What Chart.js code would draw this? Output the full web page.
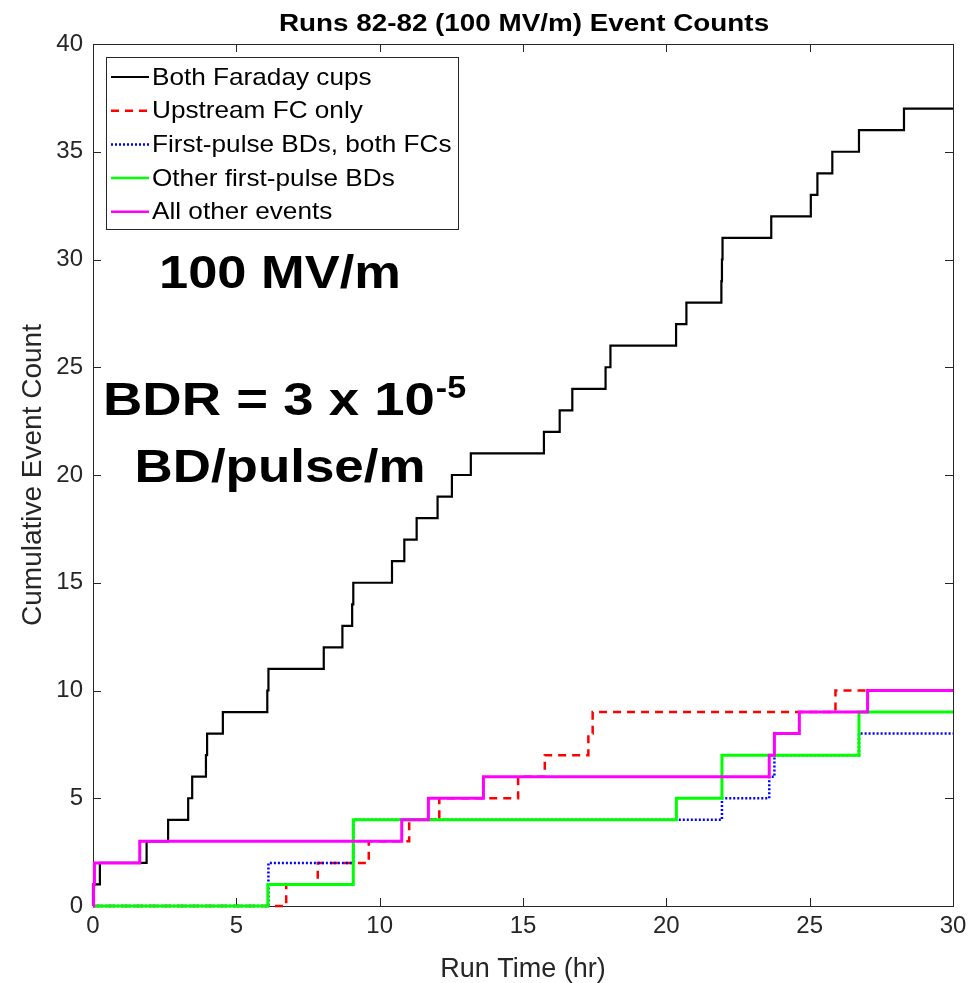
<!DOCTYPE html>
<html><head><meta charset="utf-8">
<script src="https://cdn.jsdelivr.net/npm/chart.js@4.4.1/dist/chart.umd.min.js"></script>
<style>html,body{margin:0;padding:0;background:#fff}#wrap{width:973px;height:983px;position:relative}</style>
</head><body><div id="wrap"><canvas id="c"></canvas></div>
<script>
// ---- data ----
const titleText = 'Runs 82-82 (100 MV/m) Event Counts';
const xTitle = 'Run Time (hr)';
const yTitle = 'Cumulative Event Count';
const labelField = '100 MV/m';
const labelBDR = 'BDR = 3 x 10';
const labelBDRexp = '-5';
const labelUnit = 'BD/pulse/m';
const seriesLabels = ['Both Faraday cups', 'Upstream FC only', 'First-pulse BDs, both FCs', 'Other first-pulse BDs', 'All other events'];
const xTicks = [0, 5, 10, 15, 20, 25, 30];
const yTicks = [0, 5, 10, 15, 20, 25, 30, 35, 40];

const bothT = [0, 0, 0.24, 1.87, 2.62, 3.32, 3.46, 3.94, 3.98, 4.53, 6.08, 6.12, 8.05, 8.70, 9.04, 9.08, 10.43, 10.86, 11.29, 12.02, 12.52, 13.18, 15.73, 16.28, 16.72, 17.88, 18.05, 20.34, 20.70, 21.92, 21.94, 21.96, 23.66, 25.04, 25.27, 25.79, 26.72, 28.29, 30];
const bothY = [0, 1, 2, 3, 4, 5, 6, 7, 8, 9, 10, 11, 12, 13, 14, 15, 16, 17, 18, 19, 20, 21, 22, 23, 24, 25, 26, 27, 28, 29, 30, 31, 32, 33, 34, 35, 36, 37, 37];

const upT = [0, 6.74, 7.84, 9.62, 11.03, 12.08, 14.83, 15.76, 17.28, 17.43, 25.90, 30];
const upY = [0, 1, 2, 3, 4, 5, 6, 7, 8, 9, 10, 10];

const fpBothT = [0, 6.12, 6.12, 9.08, 9.08, 21.94, 23.59, 23.77, 26.72, 30];
const fpBothY = [0, 1, 2, 3, 4, 5, 6, 7, 8, 8];

const fpOtherT = [0, 6.10, 9.08, 9.08, 9.08, 20.35, 21.94, 21.94, 26.72, 26.72, 30];
const fpOtherY = [0, 1, 2, 3, 4, 5, 6, 7, 8, 9, 9];

const otherT = [0, 0.02, 0.05, 1.63, 10.77, 11.70, 13.62, 23.59, 23.77, 24.64, 27.02, 30];
const otherY = [0, 1, 2, 3, 4, 5, 6, 7, 8, 9, 10, 10];

// ---- build ----
const FONT = '"Liberation Sans", Arial, Helvetica, sans-serif';
const AX = '#262626';
function pts(t, y) { return t.map((v, i) => ({x: v, y: y[i]})); }

const datasets = [
  {label: seriesLabels[0], data: pts(bothT, bothY), borderColor: '#000000', borderWidth: 2.2, order: 5},
  {label: seriesLabels[1], data: pts(upT, upY), borderColor: '#ff0000', borderWidth: 2.5, borderDash: [8, 6], order: 4},
  {label: seriesLabels[2], data: pts(fpBothT, fpBothY), borderColor: '#0000ff', borderWidth: 2.5, borderDash: [2, 2], order: 3},
  {label: seriesLabels[3], data: pts(fpOtherT, fpOtherY), borderColor: '#00ff00', borderWidth: 3, order: 2},
  {label: seriesLabels[4], data: pts(otherT, otherY), borderColor: '#ff00ff', borderWidth: 3, order: 1}
].map(d => Object.assign({stepped: true, pointRadius: 0, fill: false, tension: 0, clip: false}, d));

function stretchText(ctx, text, x, y, align, sx) {
  ctx.save();
  ctx.translate(x, y);
  ctx.scale(sx, 1);
  ctx.textAlign = align;
  ctx.fillText(text, 0, 0);
  ctx.restore();
}

const framePlugin = {
  id: 'frame',
  beforeDatasetsDraw(chart) {
    const {ctx, chartArea: a, scales: {x, y}} = chart;
    ctx.save();
    ctx.strokeStyle = AX;
    ctx.lineWidth = 1;
    ctx.beginPath();
    x.ticks.forEach(t => {
      const px = Math.round(x.getPixelForValue(t.value)) + 0.5;
      ctx.moveTo(px, a.bottom); ctx.lineTo(px, a.bottom - 8);
      ctx.moveTo(px, a.top); ctx.lineTo(px, a.top + 8);
    });
    y.ticks.forEach(t => {
      const py = Math.round(y.getPixelForValue(t.value)) + 0.5;
      ctx.moveTo(a.left, py); ctx.lineTo(a.left + 8, py);
      ctx.moveTo(a.right, py); ctx.lineTo(a.right - 8, py);
    });
    ctx.stroke();
    ctx.strokeRect(Math.round(a.left) + 0.5, Math.round(a.top) + 0.5, Math.round(a.right - a.left), Math.round(a.bottom - a.top));
    ctx.restore();
  },
  afterDraw(chart) {
    const {ctx} = chart;
    ctx.save();
    // title
    ctx.fillStyle = '#000';
    ctx.textBaseline = 'alphabetic';
    ctx.font = 'bold 23px ' + FONT;
    stretchText(ctx, titleText, 524, 31, 'center', 1.21);
    // annotations
    ctx.font = 'bold 46px ' + FONT;
    stretchText(ctx, labelField, 280, 288, 'center', 1.14);
    const sx = 1.16;
    ctx.font = 'bold 47px ' + FONT;
    stretchText(ctx, labelBDR, 103, 415, 'left', sx);
    const w = ctx.measureText(labelBDR).width * sx;
    ctx.font = 'bold 31px ' + FONT;
    stretchText(ctx, labelBDRexp, 103 + w + 1, 398, 'left', 1.1);
    ctx.font = 'bold 46px ' + FONT;
    stretchText(ctx, labelUnit, 280, 482, 'center', 1.15);
    // legend
    const bx = 106.5, by = 57.5, bw = 352, bh = 172;
    ctx.fillStyle = '#fff';
    ctx.fillRect(bx, by, bw, bh);
    ctx.strokeStyle = AX;
    ctx.lineWidth = 1;
    ctx.setLineDash([]);
    ctx.strokeRect(bx, by, bw, bh);
    ctx.font = '24px ' + FONT;
    ctx.textBaseline = 'middle';
    chart.data.datasets.forEach((d, i) => {
      const cy = 77 + i * 33.7;
      ctx.save();
      ctx.strokeStyle = d.borderColor;
      ctx.lineWidth = Math.min(d.borderWidth, 2.5);
      ctx.setLineDash(d.borderDash || []);
      ctx.beginPath();
      ctx.moveTo(111, cy); ctx.lineTo(149, cy);
      ctx.stroke();
      ctx.restore();
      ctx.fillStyle = '#000';
      stretchText(ctx, d.label, 152, cy + 1, 'left', 1.09);
    });
    ctx.restore();
  }
};

new Chart(document.getElementById('c'), {
  type: 'line',
  data: {datasets},
  plugins: [framePlugin],
  options: {
    responsive: true,
    maintainAspectRatio: false,
    animation: false,
    layout: {padding: {top: 44, right: 20, left: 0, bottom: 0}},
    plugins: {legend: {display: false}, tooltip: {enabled: false}, title: {display: false}},
    scales: {
      x: {
        type: 'linear', min: 0, max: 30,
        afterBuildTicks: s => { s.ticks = xTicks.map(v => ({value: v})); },
        afterFit: s => { s.height = 77; },
        grid: {display: false, drawTicks: false},
        border: {display: false},
        ticks: {color: AX, font: {family: FONT, size: 24}, padding: 6, maxRotation: 0, autoSkip: false},
        title: {display: true, text: xTitle, color: AX, font: {family: FONT, size: 27, lineHeight: 1}, padding: {top: 0, bottom: 0}}
      },
      y: {
        type: 'linear', min: 0, max: 40,
        afterBuildTicks: s => { s.ticks = yTicks.map(v => ({value: v})); },
        afterFit: s => { s.width = 93; },
        grid: {display: false, drawTicks: false},
        border: {display: false},
        ticks: {color: AX, font: {family: FONT, size: 24}, padding: 10, autoSkip: false},
        title: {display: true, text: yTitle, color: AX, font: {family: FONT, size: 28, lineHeight: 1.2}, padding: {top: 16, bottom: 0}}
      }
    }
  }
});
</script></body></html>
